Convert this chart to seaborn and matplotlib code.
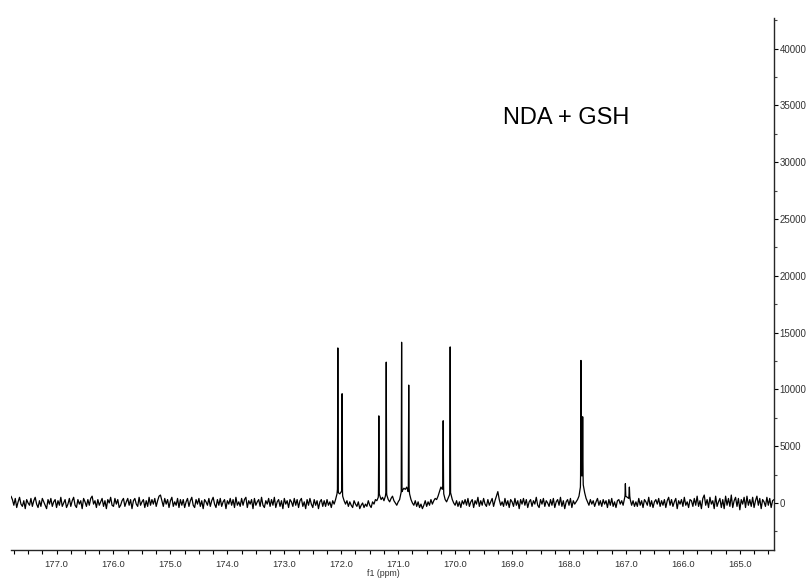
import matplotlib
matplotlib.use("Agg")
import matplotlib.pyplot as plt
from matplotlib import font_manager
from matplotlib.ticker import MultipleLocator, FormatStrFormatter
import numpy as np
import pandas as pd
import seaborn as sns

# peaks: position (ppm), top (intensity), level at the foot
peak_ppm = [172.06, 171.985, 171.34, 171.21, 170.94, 170.815,
            170.21, 170.087, 167.79, 167.76, 167.01, 166.94]
peak_height = [13650, 9620, 7670, 12400, 14150, 10380,
               7240, 13740, 12550, 7590, 1700, 1400]
peak_foot = [1200, 1000, 800, 900, 1000, 1300,
             1500, 900, 2400, 2400, 600, 600]

# baseline noise in hundreds, one value every 0.025 ppm from 177.800 down to 164.400
baseline_start = 177.80
baseline_step = 0.025
baseline_x100 = [
    6, 3, -2, 4, -4, 1, 5, -1, -3, 2, -5, 3, 0, -2, 4, -3, 2, 5, -1, -4,
    2, -3, 4, 1, -2, -5, 3, -1, 4, -3, 1, 3, -4, 2, -2, 5, -3, 0, 3, -4,
    -1, 4, -3, 2, 5, -2, -4, 3, -1, 2, -5, 4, 1, -3, 3, -2, 4, 6, -1, 2,
    -4, 3, -2, 1, 4, -3, 2, -5, 3, 0, 5, -2, -3, 4, -1, 3, -4, -2, 2, 4,
    -3, 1, 4, -2, 3, -5, 2, 4, -1, -3, 5, -2, 1, 3, -4, 2, -3, 5, -2, 3,
    -1, 4, -3, 2, 6, 7, 2, -3, 4, -1, 3, -4, 2, 5, -3, 1, -2, 4, -4, 3,
    -2, 3, -4, 1, 4, -3, 2, 5, -2, -4, 3, -1, 4, -3, 2, -5, 3, 1, -2, 4,
    -3, 2, 5, -1, -4, 3, -2, 4, -3, 1, 3, -5, 2, -1, 4, -2, 3, -4, 5, -2,
    1, -3, 4, -2, 3, 5, -4, 2, -1, 3, -5, 4, -2, 1, 3, -3, 5, -2, -4, 2,
    -1, 4, -3, 3, -2, 5, -4, 1, 3, -3, 2, -5, 4, -1, 2, -4, 3, 1, -3, 4,
    -2, 3, -4, 2, 4, -3, 1, -5, 3, -2, 4, -1, -4, 3, -2, 2, -5, 1, 3, -3,
    2, -3, 3, -2, 1, -4, 2, -1, 3, 8, 9, 8, 10, 6, 2, -1, 2, -3, 1, -2,
    -4, 2, -1, -3, 1, -5, -2, 0, -4, -1, -3, 2, -2, -4, 1, -1, 3, 2, 5, 7,
    3, 5, 2, 6, 7, 3, 1, 4, 6, 2, 0, -2, 1, 3, 9, 11, 13, 12, 14, 10,
    8, 3, 0, -2, 2, -3, 1, -4, -1, -5, -2, 2, -3, 1, -2, 3, -1, 2, 4, 3,
    6, 10, 14, 12, 8, 3, 1, 4, 7, 8, 3, 0, -2, 2, -3, 1, -4, 2, -1, 3,
    -2, 4, -3, 1, 3, -4, 2, -1, 5, -3, 2, -2, 4, -1, -3, 3, -2, 1, 4, -3,
    2, 6, 10, 3, -2, 1, -3, 4, -2, 2, -4, 3, 1, -3, 4, -2, 2, -5, 3, -1,
    4, -2, 3, -4, 1, 3, -3, 2, -1, 5, -2, -4, 3, -1, 4, -3, 2, 0, -3, 3,
    -2, 4, -4, 1, 3, -2, 5, -3, 2, -5, 1, 3, -2, 4, -4, 2, -1, 1, 3, 6,
    14, 24, 16, 9, 4, 1, -2, 3, -1, 2, -3, 1, 4, -2, 2, -3, 3, -1, 2, -4,
    3, -2, 4, -3, 1, -4, 2, 3, -1, 2, -2, 4, 6, 5, 4, 3, -2, 2, -3, 1,
    -3, 4, -2, 2, -4, 3, 1, -2, 5, -3, 2, -4, 1, 3, -1, 4, -3, 2, -2, 3,
    -4, 2, 5, -2, 3, -3, 1, 4, -5, 2, -1, 3, -3, 5, -2, 1, -4, 3, 2, -3,
    4, -2, 6, -3, 2, -5, 4, 7, -2, 3, -4, 5, -1, 2, -5, 6, -3, 1, 4, -4,
    3, -5, 6, -2, 4, -3, 7, -4, 2, 5, -3, 4, -6, 3, -1, 5, -4, 6, -2, 3,
    -3, 5, -4, 2, 6, -2, 4, -5, 3, 1, -3, 5, -2, 4, -4, 2, 3,
]

spike_half_width = 0.007

base = pd.DataFrame({
    "ppm": baseline_start - baseline_step * np.arange(len(baseline_x100)),
    "intensity": np.array(baseline_x100) * 100,
})
# keep grid points clear of the narrow peak spikes
near_peak = np.zeros(len(base), dtype=bool)
for p in peak_ppm:
    near_peak |= np.abs(base["ppm"] - p) <= spike_half_width
rows = [base[~near_peak]]
for p, h, f in zip(peak_ppm, peak_height, peak_foot):
    rows.append(pd.DataFrame({"ppm": [p + spike_half_width, p, p - spike_half_width],
                              "intensity": [f, h, f]}))
spectrum = pd.concat(rows, ignore_index=True).sort_values("ppm")

sns.set_style("ticks")
installed = {f.name for f in font_manager.fontManager.ttflist}
narrow = "Liberation Sans Narrow" if "Liberation Sans Narrow" in installed else "Liberation Sans"
plt.rcParams["font.family"] = ["Liberation Sans", "DejaVu Sans"]

fig = plt.figure(figsize=(8.11, 5.85), dpi=100)
ax = fig.add_axes([11 / 811, 1 - 550 / 585, 763 / 811, 532 / 585])

sns.lineplot(data=spectrum, x="ppm", y="intensity", estimator=None, sort=True,
             color="black", linewidth=0.9, ax=ax)

ax.set_xlim(177.8, 164.4)
ax.set_ylim(-4140, 42700)

ax.spines["left"].set_visible(False)
ax.spines["top"].set_visible(False)
ax.spines["right"].set_linewidth(1.0)
ax.spines["bottom"].set_linewidth(1.0)
ax.yaxis.tick_right()

ax.xaxis.set_major_locator(MultipleLocator(1.0))
ax.xaxis.set_minor_locator(MultipleLocator(0.25))
ax.xaxis.set_major_formatter(FormatStrFormatter("%.1f"))
ax.yaxis.set_major_locator(MultipleLocator(5000))
ax.yaxis.set_minor_locator(MultipleLocator(2500))
ax.yaxis.set_major_formatter(FormatStrFormatter("%d"))

ax.tick_params(axis="x", which="both", direction="out", length=3, width=0.8,
               color="black", labelcolor="#333333", labelsize=6.8, pad=4.5,
               labelfontfamily=narrow)
ax.tick_params(axis="y", which="major", direction="out", length=3, width=0.8,
               color="black", labelcolor="#333333", labelsize=7, pad=1)
ax.tick_params(axis="y", which="minor", direction="out", length=2, width=0.8,
               color="#444444")

ax.set_xlabel("f1 (ppm)", fontsize=6.3, family=narrow, color="#333333")
ax.xaxis.set_label_coords(0.488, -0.035)
ax.set_ylabel("")

ax.text(168.05, 33900, "NDA + GSH", ha="center", va="center",
        fontsize=17, color="black")

fig.savefig("out.png", dpi=100)
